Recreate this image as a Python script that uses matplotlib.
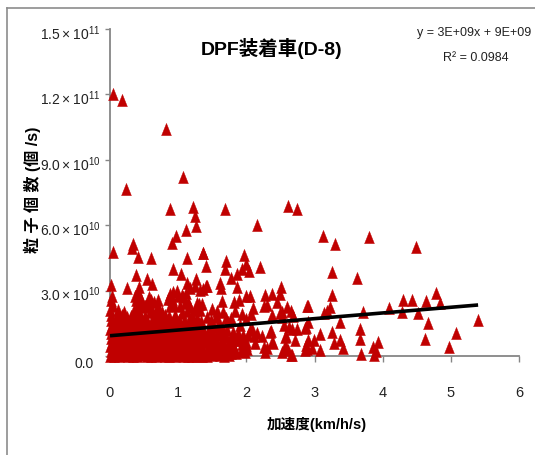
import matplotlib
matplotlib.use('Agg')
import matplotlib.pyplot as plt
from matplotlib.lines import Line2D
from matplotlib.transforms import ScaledTranslation
import numpy as np

FONT = ['Liberation Sans', 'Noto Sans CJK JP', 'DejaVu Sans']
plt.rcParams['font.family'] = FONT
plt.rcParams['mathtext.fontset'] = 'custom'
plt.rcParams['mathtext.rm'] = 'Liberation Sans'
plt.rcParams['mathtext.default'] = 'regular'

# upper / sparse points: acceleration (km/h/s), particle count (1e10 /s)
sparse_x = [0.04,0.18,0.82,1.07,0.23,0.88,1.22,1.25,1.26,1.11,0.97,0.91,1.69,2.16,2.61,2.74,3.12,3.30,3.80,4.49,
            0.34,0.32,0.41,0.60,0.05,1.13,0.92,1.36,1.41,0.38,0.54,1.04,1.26,0.01,0.25,0.43,0.62,1.24,1.13,1.41,1.32,1.18]
sparse_y = [12.0,11.75,10.4,8.2,7.65,6.75,6.85,6.4,5.95,5.8,5.5,5.2,6.74,6.02,6.87,6.74,5.52,5.13,5.46,5.0,
            5.15,4.95,4.55,4.5,4.75,4.5,4.0,4.71,4.12,3.7,3.55,3.75,3.55,3.25,3.1,3.15,3.3,3.2,3.35,3.2,3.05,3.1]

# right-hand points
right_x = [3.26,3.62,2.51,3.26,4.78,4.30,4.43,4.63,4.84,2.90,3.23,4.09,3.71,4.28,4.52,3.14,5.40,4.66,3.37,2.90,
           5.07,3.67,3.26,3.08,3.67,4.62,3.37,3.93,2.99,3.28,3.86,3.42,4.98,3.08,3.68,3.87,3.90,2.65,2.86,2.90,
           2.88,2.96,2.71,2.57,2.58,2.53,2.61,2.39,2.35,2.30,2.74,2.67,2.86,2.55,2.38,2.52,2.60,2.65,2.68,2.49,
           2.38,2.45,2.27,2.30,3.18,2.89,2.87,2.62,2.36,2.58,2.23,2.38,2.13,2.26,2.57,2.67,2.27,2.89,2.53,2.49]
right_y = [3.85,3.58,3.16,2.80,2.89,2.57,2.57,2.52,2.43,2.29,2.25,2.20,2.02,2.02,1.97,1.97,1.65,1.51,1.56,1.56,
           1.05,1.24,1.10,1.00,0.78,0.78,0.73,0.64,0.73,0.60,0.41,0.37,0.41,0.28,0.10,0.05,0.23,0.05,0.28,0.73,
           0.50,0.37,0.73,0.87,0.41,0.18,0.28,0.60,1.10,0.37,1.24,1.24,1.28,1.42,1.88,2.02,2.25,2.06,1.83,2.84,
           2.84,2.48,2.80,2.34,2.06,2.29,1.33,1.33,1.15,0.92,0.92,0.64,0.60,0.41,0.46,0.05,0.18,0.32,1.79,1.97]

# middle points
mid_x = [1.36,1.96,1.70,1.69,1.94,1.99,2.04,2.20,1.87,1.77,1.61,1.42,1.37,1.63,1.86,2.00,2.05,1.89,1.82,1.64,
         2.26,2.10,1.35,1.50,1.57,1.66,1.42,1.83,1.94,2.07,2.00,1.73,2.08,2.00,1.98,1.85,1.48,1.55,1.60,1.70,
         1.78,1.90,2.05,1.45,1.52,1.58,1.65,1.72,1.80,1.88,1.95,1.47,1.56,1.63,1.70,1.76,1.84,1.44,1.53,1.62,
         1.68,1.75,1.82,1.93,1.42,1.50,1.59,1.67,1.74,2.15,1.41,1.58,1.70,1.49,1.77,1.62,1.46,1.55,1.64,1.73,
         1.81,1.91,1.99,1.43,1.51,1.60,1.69,1.79,1.87,1.97,2.03,1.45,1.54,1.61,1.72,1.83,1.92,2.01,2.11]
mid_y = [4.71,4.64,4.35,3.98,4.01,4.20,3.90,4.06,3.75,3.59,3.35,3.20,3.07,3.11,3.15,2.75,2.75,2.57,2.48,2.52,
         2.29,2.20,2.39,2.16,2.06,2.02,1.79,2.06,1.93,1.93,1.70,1.56,1.24,0.64,0.18,0.14,1.65,1.80,1.55,1.75,
         1.75,1.40,1.20,1.25,1.35,1.15,1.30,1.20,1.10,1.05,0.95,0.85,0.80,0.95,0.85,0.70,0.75,0.40,0.45,0.50,
         0.35,0.40,0.30,0.55,0.02,0.05,0.08,0.02,0.05,1.05,0.70,0.20,0.15,0.20,0.12,0.05,0.62,0.58,0.66,0.60,
         0.52,0.72,0.50,0.92,1.02,1.08,0.98,0.92,0.78,0.80,0.95,0.28,0.30,0.34,0.26,0.22,0.25,0.30,0.90]

# dense low band near the origin, row by row
dense_x = [0.00,0.06,0.13,0.20,0.26,0.34,0.40,0.47,0.54,0.60,0.67,0.74,0.81,0.87,0.95,1.01,1.08,1.15,1.21,1.28,1.35,
           0.02,0.09,0.15,0.23,0.29,0.36,0.43,0.50,0.56,0.64,0.70,0.77,0.84,0.90,0.97,1.04,1.11,1.17,1.25,1.31,1.38,
           0.00,0.05,0.12,0.18,0.25,0.32,0.38,0.46,0.52,0.59,0.66,0.72,0.79,0.86,0.93,0.99,1.06,1.13,1.20,1.26,1.33,
           0.03,0.10,0.16,0.22,0.30,0.37,0.44,0.49,0.57,0.63,0.69,0.76,0.83,0.91,0.96,1.03,1.10,1.16,1.23,1.30,1.37,
           0.01,0.07,0.14,0.21,0.27,0.33,0.41,0.48,0.55,0.61,0.68,0.75,0.82,0.88,0.94,1.02,1.09,1.14,1.22,1.29,1.35,
           0.02,0.08,0.15,0.19,0.28,0.35,0.42,0.51,0.58,0.62,0.71,0.78,0.85,0.92,0.98,1.05,1.12,1.19,1.27,1.32,1.39,
           0.00,0.06,0.11,0.17,0.24,0.31,0.39,0.45,0.53,0.60,0.65,0.73,0.80,0.89,0.95,1.00,1.07,1.15,1.24,1.30,1.36,
           0.03,0.09,0.16,0.23,0.30,0.36,0.43,0.50,0.56,0.64,0.70,0.77,0.83,0.90,0.97,1.04,1.11,1.18,1.26,1.33,
           0.01,0.07,0.14,0.21,0.27,0.34,0.41,0.47,0.54,0.61,0.66,0.72,0.79,0.86,0.92,1.01,1.08,1.16,1.22,1.29,1.34,
           0.02,0.10,0.18,0.25,0.31,0.37,0.44,0.52,0.58,0.67,0.75,0.81,0.87,0.96,1.05,1.13,1.20,1.28,
           0.00,0.05,0.12,0.20,0.35,0.40,0.48,0.55,0.62,0.69,0.76,0.88,0.94,1.02,1.10,1.18,1.25,1.32,
           0.01,0.03,0.38,0.43,0.46,0.52,0.64,0.71,0.85,0.91,1.00,1.07,1.14,1.27,
           0.36,0.41,0.60,0.88,0.93,0.98,1.05,1.11,1.30,0.44,0.57,0.70]
dense_y = [0.00,0.02,0.00,0.03,0.00,0.02,0.00,0.03,0.00,0.02,0.00,0.03,0.00,0.02,0.00,0.03,0.00,0.02,0.00,0.02,0.00,
           0.22,0.20,0.24,0.20,0.23,0.20,0.22,0.24,0.20,0.23,0.20,0.22,0.24,0.20,0.23,0.20,0.22,0.24,0.20,0.22,0.20,
           0.44,0.42,0.46,0.40,0.44,0.42,0.46,0.40,0.44,0.42,0.46,0.40,0.44,0.42,0.46,0.40,0.44,0.42,0.46,0.40,0.44,
           0.64,0.62,0.66,0.60,0.64,0.62,0.66,0.60,0.64,0.62,0.66,0.60,0.64,0.62,0.66,0.60,0.64,0.62,0.66,0.60,0.62,
           0.84,0.82,0.86,0.80,0.84,0.82,0.86,0.80,0.84,0.82,0.86,0.80,0.84,0.82,0.86,0.80,0.84,0.82,0.86,0.80,0.82,
           1.04,1.02,1.06,1.00,1.04,1.02,1.06,1.00,1.04,1.02,1.06,1.00,1.04,1.02,1.06,1.00,1.04,1.02,1.06,1.00,0.98,
           1.24,1.22,1.26,1.20,1.24,1.22,1.26,1.20,1.24,1.22,1.26,1.20,1.24,1.22,1.26,1.20,1.24,1.22,1.26,1.20,1.16,
           1.44,1.42,1.46,1.40,1.44,1.42,1.46,1.40,1.44,1.42,1.46,1.40,1.44,1.42,1.46,1.40,1.44,1.42,1.46,1.36,
           1.64,1.62,1.66,1.60,1.62,1.64,1.62,1.66,1.60,1.64,1.62,1.66,1.60,1.64,1.62,1.66,1.60,1.64,1.62,1.55,1.60,
           1.86,1.82,1.90,1.80,1.85,1.80,1.92,1.84,2.00,1.85,1.80,1.90,1.82,1.90,1.95,2.05,1.90,1.75,
           2.10,2.30,2.10,2.00,2.10,2.20,2.25,2.40,2.10,2.10,2.00,2.30,2.35,2.30,2.45,2.25,2.10,2.10,
           2.55,2.75,2.55,2.45,2.60,2.30,2.50,2.30,2.60,2.60,2.75,2.70,2.50,2.45,
           2.75,2.85,2.55,2.85,2.95,3.00,2.80,2.90,2.40,2.70,2.70,2.55]

trend_x = [0.0, 5.40]
trend_y = [0.93, 2.34]

xticks = [0, 1, 2, 3, 4, 5, 6]
yticks = [0, 3e10, 6e10, 9e10, 1.2e11, 1.5e11]
ylabels = ['0.0', r'$3.0\times10^{10}$', r'$6.0\times10^{10}$', r'$9.0\times10^{10}$',
           r'$1.2\times10^{11}$', r'$1.5\times10^{11}$']

W, H = 535, 456
fig = plt.figure(figsize=(W/100, H/100), dpi=100, facecolor='white')
ax = fig.add_axes([110/W, 1-357/H, 409/W, 327/H])

# tall triangle: narrower than it is high
tall_tri = [(-0.40, -0.5), (0.40, -0.5), (0.0, 0.5), (-0.40, -0.5)]

xs = np.array(sparse_x + right_x + mid_x + dense_x)
ys = np.array(sparse_y + right_y + mid_y + dense_y) * 1e10
ax.plot(xs, ys, ls='none', marker=tall_tri, ms=8.8, mfc='#C00000', mec='#C00000', mew=0.3, clip_on=False, zorder=3)
ax.plot(trend_x, np.array(trend_y)*1e10, color='black', lw=2.6, solid_capstyle='butt', zorder=4, clip_on=False)

ax.set_xlim(0, 6)
ax.set_ylim(0, 1.5e11)
ax.set_xticks(xticks)
ax.set_yticks(yticks)
ax.set_xticklabels([str(v) for v in xticks], fontsize=10.5, color='#222222')
ax.set_yticklabels(ylabels, fontsize=10, color='#222222')
for s in ('top', 'right'):
    ax.spines[s].set_visible(False)
for s in ('left', 'bottom'):
    ax.spines[s].set_color('#868686')
    ax.spines[s].set_linewidth(1.3)
ax.tick_params(axis='x', length=4, width=1, color='#868686', pad=17)
ax.tick_params(axis='y', length=3.5, width=1, color='#868686', pad=3)
labs = ax.get_yticklabels()
for i, lab in enumerate(labs):
    dy = -5 if i == 0 else -2
    dx = -7 if i == 0 else 0
    lab.set_transform(lab.get_transform() + ScaledTranslation(dx/100, dy/100, fig.dpi_scale_trans))

def ft(px, py):
    return px/W, 1-py/H

fig.text(*ft(272, 49), 'DPF装着車(D-8)', fontsize=14, fontweight='bold', ha='center', va='center', color='black')
fig.text(*ft(474, 33), 'y = 3E+09x + 9E+09', fontsize=9, ha='center', va='center', color='#222222')
fig.text(*ft(476, 58), 'R² = 0.0984', fontsize=9, ha='center', va='center', color='#222222')
fig.text(*ft(317, 425), '加速度(km/h/s)', fontsize=10.5, fontweight='bold', ha='center', va='center', color='black')
fig.text(*ft(32, 190), '粒 子 個 数 (個 /s)', fontsize=11.5, fontweight='bold', rotation=90, ha='center', va='center', color='black')

# chart-area frame, cut off by the picture edge
fig.add_artist(Line2D([6.5/W, 6.5/W], [0, 1-8.5/H], color='#8c8c8c', lw=1.2, transform=fig.transFigure))
fig.add_artist(Line2D([6.5/W, 1], [1-8.5/H, 1-8.5/H], color='#8c8c8c', lw=1.2, transform=fig.transFigure))

fig.savefig('out.png', dpi=100, facecolor='white')
